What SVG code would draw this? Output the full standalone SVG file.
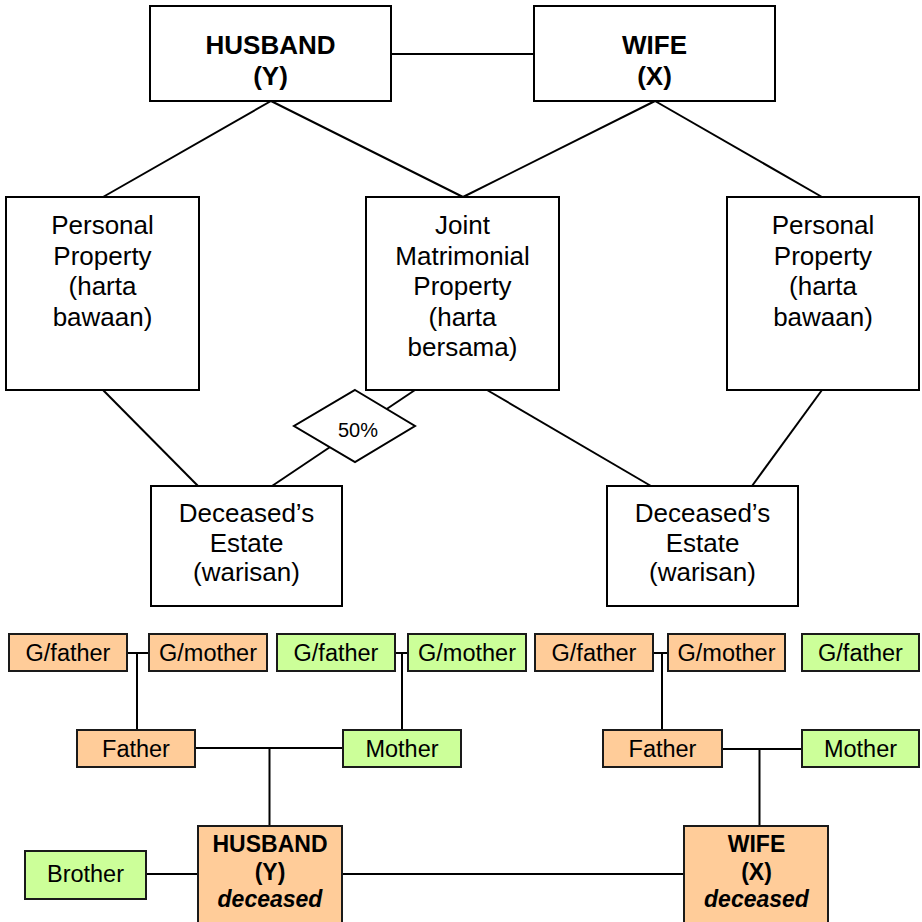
<svg xmlns="http://www.w3.org/2000/svg" width="922" height="922" viewBox="0 0 922 922">
  <style>
    .box { fill: #ffffff; stroke: #000000; stroke-width: 2; }
    .orange { fill: #ffcc99; stroke: #1a1a1a; stroke-width: 2; }
    .green { fill: #ccff99; stroke: #1a1a1a; stroke-width: 2; }
    .t { font-family: "Liberation Sans", Arial, sans-serif; fill: #000000; text-anchor: middle; }
    .big { font-size: 26px; }
    .bigb { font-size: 26px; font-weight: bold; }
    .sm { font-size: 23.5px; }
    .smb { font-size: 23px; font-weight: bold; }
    .smbi { font-size: 23px; font-weight: bold; font-style: italic; }
    .pct { font-size: 20px; }
    .link { fill: none; stroke: #000000; stroke-width: 2; }
  </style>

  <!-- connectors -->
  <g id="connectors">
    <!-- upper chart -->
    <line class="link" x1="391" y1="54" x2="534" y2="54"/>
    <line class="link" x1="271" y1="101" x2="103" y2="197"/>
    <line class="link" x1="271" y1="101" x2="463" y2="197"/>
    <line class="link" x1="655" y1="101" x2="463" y2="197"/>
    <line class="link" x1="655" y1="101" x2="822" y2="197"/>
    <line class="link" x1="103" y1="390" x2="198" y2="486"/>
    <line class="link" x1="415" y1="390" x2="272" y2="486"/>
    <line class="link" x1="487" y1="390" x2="651" y2="486"/>
    <line class="link" x1="822" y1="390" x2="752" y2="486"/>
    <!-- family tree -->
    <line class="link" x1="125" y1="653" x2="149" y2="653"/>
    <line class="link" x1="137" y1="653" x2="137" y2="730"/>
    <line class="link" x1="395" y1="653" x2="408" y2="653"/>
    <line class="link" x1="402" y1="653" x2="402" y2="730"/>
    <line class="link" x1="653" y1="653" x2="668" y2="653"/>
    <line class="link" x1="662" y1="653" x2="662" y2="730"/>
    <line class="link" x1="195" y1="748" x2="343" y2="748"/>
    <line class="link" x1="269.5" y1="748" x2="269.5" y2="826"/>
    <line class="link" x1="722" y1="749" x2="802" y2="749"/>
    <line class="link" x1="759.5" y1="748" x2="759.5" y2="826"/>
    <line class="link" x1="146" y1="874" x2="198" y2="874"/>
    <line class="link" x1="342" y1="874" x2="684" y2="874"/>
  </g>

  <!-- upper chart nodes -->
  <g id="husband-top">
    <rect class="box" x="150" y="6" width="241" height="95"/>
    <text class="t bigb" x="270.5" y="54">HUSBAND</text>
    <text class="t bigb" x="270.5" y="85">(Y)</text>
  </g>
  <g id="wife-top">
    <rect class="box" x="534" y="6" width="241" height="95"/>
    <text class="t bigb" x="654.5" y="54">WIFE</text>
    <text class="t bigb" x="654.5" y="85">(X)</text>
  </g>
  <g id="personal-left">
    <rect class="box" x="6" y="197" width="193" height="193"/>
    <text class="t big" x="102.5" y="234">Personal</text>
    <text class="t big" x="102.5" y="264.5">Property</text>
    <text class="t big" x="102.5" y="295">(harta</text>
    <text class="t big" x="102.5" y="325.5">bawaan)</text>
  </g>
  <g id="joint">
    <rect class="box" x="366" y="197" width="193" height="193"/>
    <text class="t big" x="462.5" y="234">Joint</text>
    <text class="t big" x="462.5" y="264.5">Matrimonial</text>
    <text class="t big" x="462.5" y="295">Property</text>
    <text class="t big" x="462.5" y="325.5">(harta</text>
    <text class="t big" x="462.5" y="356">bersama)</text>
  </g>
  <g id="personal-right">
    <rect class="box" x="727" y="197" width="192" height="193"/>
    <text class="t big" x="823" y="234">Personal</text>
    <text class="t big" x="823" y="264.5">Property</text>
    <text class="t big" x="823" y="295">(harta</text>
    <text class="t big" x="823" y="325.5">bawaan)</text>
  </g>
  <g id="share-50">
    <polygon class="box" points="355,390 415,426 355,462 294,426"/>
    <text class="t pct" x="358" y="437">50%</text>
  </g>
  <g id="estate-left">
    <rect class="box" x="151" y="486" width="191" height="120"/>
    <text class="t big" x="246.5" y="522">Deceased’s</text>
    <text class="t big" x="246.5" y="552">Estate</text>
    <text class="t big" x="246.5" y="581">(warisan)</text>
  </g>
  <g id="estate-right">
    <rect class="box" x="607" y="486" width="191" height="120"/>
    <text class="t big" x="702.5" y="522">Deceased’s</text>
    <text class="t big" x="702.5" y="552">Estate</text>
    <text class="t big" x="702.5" y="581">(warisan)</text>
  </g>

  <!-- family tree nodes -->
  <g id="h-gfather">
    <rect class="orange" x="9" y="634" width="118" height="37"/>
    <text class="t sm" x="68" y="661">G/father</text>
  </g>
  <g id="h-gmother">
    <rect class="orange" x="149" y="634" width="118" height="37"/>
    <text class="t sm" x="208" y="661">G/mother</text>
  </g>
  <g id="h-gfather-maternal">
    <rect class="green" x="277" y="634" width="118" height="37"/>
    <text class="t sm" x="336" y="661">G/father</text>
  </g>
  <g id="h-gmother-maternal">
    <rect class="green" x="408" y="634" width="118" height="37"/>
    <text class="t sm" x="467" y="661">G/mother</text>
  </g>
  <g id="w-gfather">
    <rect class="orange" x="535" y="634" width="118" height="37"/>
    <text class="t sm" x="594" y="661">G/father</text>
  </g>
  <g id="w-gmother">
    <rect class="orange" x="668" y="634" width="117" height="37"/>
    <text class="t sm" x="726.5" y="661">G/mother</text>
  </g>
  <g id="w-gfather-maternal">
    <rect class="green" x="802" y="634" width="117" height="37"/>
    <text class="t sm" x="860.5" y="661">G/father</text>
  </g>
  <g id="h-father">
    <rect class="orange" x="77" y="730" width="118" height="37"/>
    <text class="t sm" x="136" y="757">Father</text>
  </g>
  <g id="h-mother">
    <rect class="green" x="343" y="730" width="118" height="37"/>
    <text class="t sm" x="402" y="757">Mother</text>
  </g>
  <g id="w-father">
    <rect class="orange" x="603" y="730" width="119" height="37"/>
    <text class="t sm" x="662.5" y="757">Father</text>
  </g>
  <g id="w-mother">
    <rect class="green" x="802" y="730" width="117" height="37"/>
    <text class="t sm" x="860.5" y="757">Mother</text>
  </g>
  <g id="brother">
    <rect class="green" x="25" y="851" width="121" height="48"/>
    <text class="t sm" x="85.5" y="882">Brother</text>
  </g>
  <g id="husband-deceased">
    <rect class="orange" x="198" y="826" width="144" height="110"/>
    <text class="t smb" x="270" y="852">HUSBAND</text>
    <text class="t smb" x="270" y="880">(Y)</text>
    <text class="t smbi" x="270" y="907">deceased</text>
  </g>
  <g id="wife-deceased">
    <rect class="orange" x="684" y="826" width="144" height="110"/>
    <text class="t smb" x="756.5" y="852">WIFE</text>
    <text class="t smb" x="756.5" y="880">(X)</text>
    <text class="t smbi" x="756.5" y="907">deceased</text>
  </g>
</svg>
